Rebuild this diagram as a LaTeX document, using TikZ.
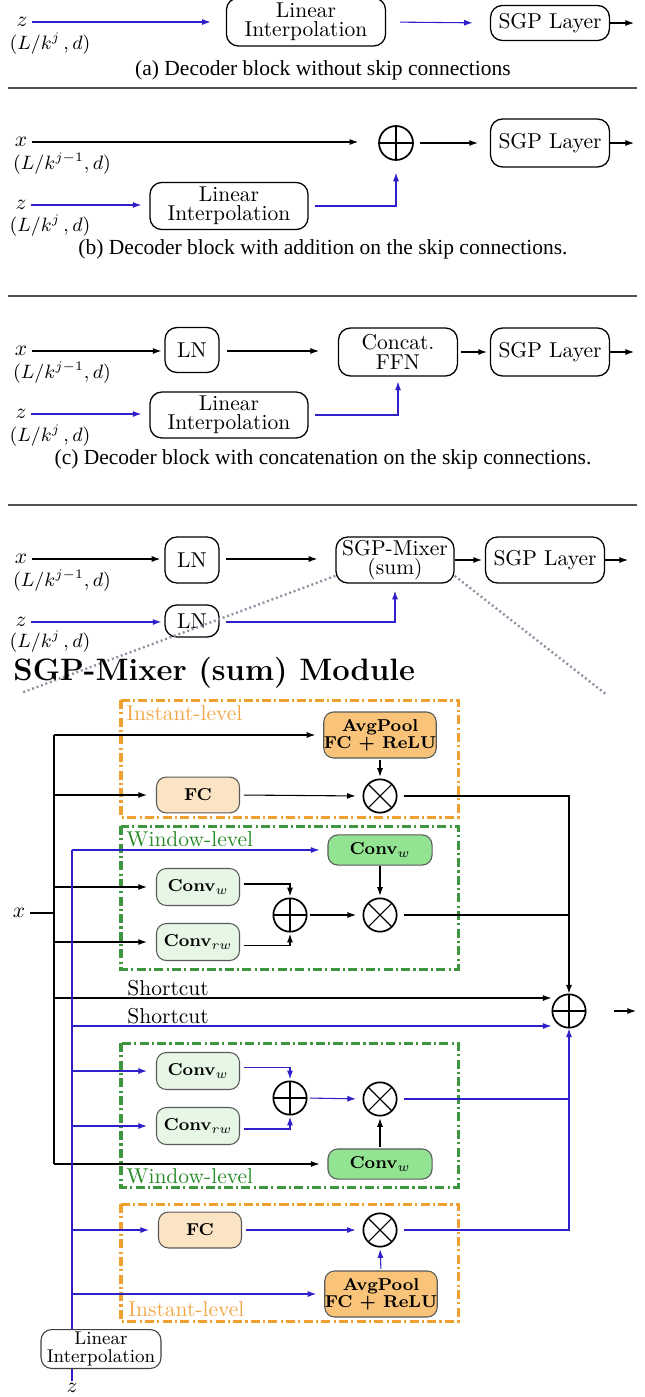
\documentclass[tikz,border=0pt]{standalone}
\usepackage{fontspec}
\newfontfamily\capfont{Liberation Serif}
\usetikzlibrary{arrows.meta,calc}
\definecolor{myblue}{RGB}{48,32,200}
\definecolor{oframe}{RGB}{240,160,50}
\definecolor{otext}{RGB}{242,168,72}
\definecolor{gframe}{RGB}{62,150,62}
\definecolor{gtext}{RGB}{40,140,40}
\definecolor{avgfill}{RGB}{249,196,122}
\definecolor{fcfill}{RGB}{251,228,195}
\definecolor{clight}{RGB}{230,247,230}
\definecolor{cdark}{RGB}{146,228,146}
\definecolor{dotgray}{RGB}{140,145,160}
\definecolor{rulegray}{RGB}{80,80,80}
\tikzset{
  arr/.style={-{Latex[length=4pt,width=2.8pt]}, line width=0.5pt},
  barr/.style={arr, color=myblue},
  bln/.style={line width=0.5pt, color=myblue},
  kln/.style={line width=0.5pt},
  pbox/.style={draw, rounded corners=5.5pt, align=center, inner sep=0pt, line width=0.6pt},
  mbox/.style={draw=black!65, rounded corners=4.6pt, align=center, inner sep=0pt, line width=0.5pt, font=\footnotesize\bfseries},
  opplus/.style={draw, circle, minimum size=15.5pt, inner sep=0pt, line width=0.8pt,
    path picture={\draw[line width=0.5pt] (path picture bounding box.north) -- (path picture bounding box.south)
      (path picture bounding box.west) -- (path picture bounding box.east);}},
  optimes/.style={draw, circle, minimum size=15.5pt, inner sep=0pt, line width=0.8pt,
    path picture={\draw[line width=0.5pt] (path picture bounding box.north west) -- (path picture bounding box.south east)
      (path picture bounding box.north east) -- (path picture bounding box.south west);}},
  oframebox/.style={draw=oframe, line width=1.4pt, dash pattern=on 4.2pt off 1.5pt on 1pt off 1.5pt},
  gframebox/.style={draw=gframe, line width=1.4pt, dash pattern=on 4.2pt off 1.5pt on 1pt off 1.5pt},
  dotline/.style={draw=dotgray, line width=1.1pt, dash pattern=on 0.9pt off 1.3pt},
  rulestyle/.style={draw=rulegray, line width=0.7pt},
  captext/.style={font=\capfont},
  lab/.style={inner sep=1pt},
  dimlab/.style={inner sep=0.5pt, font=\small}
}
\begin{document}
\begin{tikzpicture}[x=0.4651pt,y=-0.4651pt]
\useasboundingbox (0,0) rectangle (645,1397);

% ---------------- (a)
\node[lab] (za) at (22,22) {$z$};
\node[dimlab] (zla) at (50,44) {$(L/k^{j}\,, d)$};
\node[pbox, minimum width=74pt, minimum height=22.3pt] (lia) at (306,22) {Linear\\[-3pt]Interpolation};
\node[pbox, minimum width=55.3pt, minimum height=16.3pt] (sgpa) at (550,23) {SGP Layer};
\coordinate (outa) at (634,23);
\draw[barr, shorten <=1pt, shorten >=7pt] (za.east) -- (lia.west);
\draw[barr, shorten <=6.5pt, shorten >=8pt] (lia.east) -- (sgpa.west);
\draw[arr] (sgpa.east) -- (outa);
\node[captext] (capa) at (323,70) {(a) Decoder block without skip connections};
\draw[rulestyle] (8,88) -- (637,88);

% ---------------- (b)
\node[lab] (xb) at (21,142) {$x$};
\node[dimlab] (xlb) at (62,164) {$(L/k^{j-1}, d)$};
\node[opplus, minimum size=15.8pt] (plb) at (396,143) {};
\node[pbox, minimum width=55.3pt, minimum height=22.3pt] (sgpb) at (550,143) {SGP Layer};
\coordinate (outb) at (634,143);
\node[lab] (zb) at (21,205) {$z$};
\node[dimlab] (zlb) at (50,226) {$(L/k^{j}\,, d)$};
\node[pbox, minimum width=73.5pt, minimum height=21.9pt] (lib) at (229,206) {Linear\\[-3pt]Interpolation};
\draw[arr, shorten <=1pt, shorten >=9.3pt] (xb.east) -- (xb.east -| plb.west);
\draw[arr, shorten <=2.8pt, shorten >=5.6pt] (plb.east) -- (sgpb.west);
\draw[arr] (sgpb.east) -- (outb);
\draw[barr, shorten <=1pt, shorten >=3.7pt] (zb.east) -- (zb.east -| lib.west);
\draw[barr, shorten <=2.8pt, shorten >=5.5pt] (lib.east) -| (plb.south);
\node[captext] (capb) at (323,249) {(b) Decoder block with addition on the skip connections.};
\draw[rulestyle] (8,296) -- (637,296);

% ---------------- (c)
\node[lab] (xc) at (21,351) {$x$};
\node[dimlab] (xlc) at (62,373) {$(L/k^{j-1}, d)$};
\node[pbox, minimum width=25.1pt, minimum height=20.9pt] (lnc) at (192,350) {LN};
\node[pbox, minimum width=55.3pt, minimum height=22.3pt] (cat) at (398,352) {Concat.\\[-2.4pt]FFN};
\node[pbox, minimum width=55.3pt, minimum height=22.3pt] (sgpc) at (550,352) {SGP Layer};
\coordinate (outc) at (634,352);
\node[lab] (zc) at (21,414) {$z$};
\node[dimlab] (zlc) at (50,436) {$(L/k^{j}\,, d)$};
\node[pbox, minimum width=73.5pt, minimum height=21.4pt] (lic) at (229,415) {Linear\\[-3pt]Interpolation};
\draw[arr, shorten <=1pt, shorten >=1.4pt] (xc.east) -- (xc.east -| lnc.west);
\draw[arr, shorten <=3.3pt, shorten >=8.8pt] (lnc.east |- xc) -- (cat.west |- xc);
\draw[arr, shorten <=1.4pt, shorten >=1.4pt] (cat.east) -- (sgpc.west);
\draw[arr] (sgpc.east) -- (outc);
\draw[barr, shorten <=1pt, shorten >=3.7pt] (zc.east) -- (zc.east -| lic.west);
\draw[barr, shorten <=2.8pt, shorten >=2.3pt] (lic.east) -| (cat.south);
\node[captext] (capc) at (323,459) {(c) Decoder block with concatenation on the skip connections.};
\draw[rulestyle] (8,505) -- (637,505);

% ---------------- (d)
\node[lab] (xd) at (21,559) {$x$};
\node[dimlab] (xld) at (62,581) {$(L/k^{j-1}, d)$};
\node[pbox, minimum width=25.1pt, minimum height=21.4pt] (lnd) at (192,560) {LN};
\node[pbox, minimum width=54.9pt, minimum height=21.4pt] (mix) at (395,560) {SGP-Mixer\\[-3.2pt](sum)};
\node[pbox, minimum width=55.3pt, minimum height=21.4pt] (sgpd) at (545,560) {SGP Layer};
\coordinate (outd) at (628,560);
\node[lab] (zd) at (21,622) {$z$};
\node[dimlab] (zld) at (50,642) {$(L/k^{j}\,, d)$};
\node[pbox, minimum width=25.1pt, minimum height=14.9pt] (lnz) at (192,621) {LN};
\draw[arr, shorten <=1pt, shorten >=1.9pt] (xd.east) -- (xd.east -| lnd.west);
\draw[arr, shorten <=2.8pt, shorten >=8.4pt] (lnd.east |- xd) -- (mix.west |- xd);
\draw[arr, shorten >=1.4pt] (mix.east) -- (sgpd.west);
\draw[arr] (sgpd.east) -- (outd);
\draw[barr, shorten <=1pt, shorten >=1.4pt] (zd.east) -- (zd.east -| lnz.west);
\draw[barr, shorten <=2.8pt, shorten >=3.3pt] (lnz.east |- zd) -| (mix.south);
\coordinate (dl) at (21,693);
\coordinate (dr) at (607,695);
\draw[dotline] ([yshift=3.6pt]mix.south west) -- (dl);
\draw[dotline] ([yshift=3.6pt]mix.south east) -- (dr);
\node[anchor=west, font=\Large\bfseries, inner sep=0pt] (title) at (13,673) {SGP-Mixer (sum) Module};

% ---------------- module frames
\draw[oframebox] (121,700) rectangle (458,817);
\draw[gframebox] (121,826) rectangle (458,969);
\draw[gframebox] (121,1043) rectangle (458,1187);
\draw[oframebox] (121,1204) rectangle (458,1321);
\node[anchor=west, text=otext, inner sep=0pt] (il1) at (126,713) {Instant-level};
\node[anchor=west, text=gtext, inner sep=0pt] (wl1) at (126,839) {Window-level};
\node[anchor=west, text=gtext, inner sep=0pt] (wl2) at (126,1176) {Window-level};
\node[anchor=west, text=otext, inner sep=0pt] (il2) at (128,1309) {Instant-level};

% ---------------- module nodes
\node[mbox, fill=avgfill, minimum width=48.4pt, minimum height=21.4pt] (avg1) at (380,735) {AvgPool\\[-1.5pt]FC + ReLU};
\node[mbox, fill=fcfill, minimum width=38.6pt, minimum height=16.7pt] (fc1) at (198,795) {FC};
\node[optimes] (m1) at (380,796) {};
\node[mbox, fill=cdark, minimum width=48.4pt, minimum height=14pt] (cwf1) at (380,850) {Conv$_w$};
\node[mbox, fill=clight, minimum width=38.6pt, minimum height=17.2pt] (cw1) at (198,887) {Conv$_w$};
\node[mbox, fill=clight, minimum width=38.6pt, minimum height=17.2pt] (crw1) at (198,942) {Conv$_{rw}$};
\node[opplus] (p1) at (290,915) {};
\node[optimes] (m2) at (380,915) {};
\node[opplus] (fin) at (569,1011) {};
\node[mbox, fill=clight, minimum width=38.6pt, minimum height=17.2pt] (cw2) at (198,1071) {Conv$_w$};
\node[mbox, fill=clight, minimum width=38.6pt, minimum height=17.2pt] (crw2) at (198,1126) {Conv$_{rw}$};
\node[opplus] (p2) at (290,1098) {};
\node[optimes] (m3) at (380,1099) {};
\node[mbox, fill=cdark, minimum width=48.4pt, minimum height=14pt] (cwf2) at (380,1164) {Conv$_w$};
\node[mbox, fill=fcfill, minimum width=38.6pt, minimum height=16.7pt] (fc2) at (200,1230) {FC};
\node[optimes] (m4) at (380,1230) {};
\node[mbox, fill=avgfill, minimum width=46pt, minimum height=21.4pt] (avg2) at (381,1294) {AvgPool\\[-1.5pt]FC + ReLU};
\node[draw=black!75, rounded corners=5pt, align=center, inner sep=0pt, line width=0.5pt,
      minimum width=55.8pt, minimum height=18.1pt, font=\fontsize{8.6}{8.6}\selectfont] (lim) at (101,1349) {Linear\\Interpolation};
\node[lab] (xm) at (19,913) {$x$};
\node[lab, anchor=north] (zm) at (72,1381) {$z$};
\node[anchor=west, inner sep=0pt] (sc1) at (127,988) {Shortcut};
\node[anchor=west, inner sep=0pt] (sc2) at (127,1016) {Shortcut};
\coordinate (bt) at (54,734);
\coordinate (ut) at (72,849);
\coordinate (s1) at (54,998);
\coordinate (s2) at (72,1026);
\coordinate (outm) at (636,1011);

% black trunk
\draw[kln] (avg1.west -| bt) -- (cwf2.west -| bt);
\draw[kln, shorten <=1pt] (xm.east) -- (xm.east -| bt);
\draw[arr, shorten >=3.7pt] (avg1.west -| bt) -- (avg1.west);
\draw[arr, shorten >=4.2pt] (fc1.west -| bt) -- (fc1.west);
\draw[arr, shorten >=4.2pt] (cw1.west -| bt) -- (cw1.west);
\draw[arr, shorten >=4.2pt] (crw1.west -| bt) -- (crw1.west);
\draw[arr] (s1) -- (s1 -| fin.west);
\draw[arr, shorten >=3.7pt] (cwf2.west -| bt) -- (cwf2.west);

% blue trunk
\draw[bln] (cwf1.west -| ut) -- (lim.north -| ut);
\draw[bln] (zm.north) -- (lim.south -| zm);
\draw[barr, shorten >=3.7pt] (cwf1.west -| ut) -- (cwf1.west);
\draw[barr] (s2) -- (s2 -| fin.west);
\draw[barr, shorten >=4.2pt] (cw2.west -| ut) -- (cw2.west);
\draw[barr, shorten >=4.2pt] (crw2.west -| ut) -- (crw2.west);
\draw[barr, shorten >=4.2pt] (fc2.west -| ut) -- (fc2.west);
\draw[barr, shorten >=3.7pt] (avg2.west -| ut) -- (avg2.west);

% instant-level 1
\draw[arr, shorten <=1.8pt, shorten >=3.2pt] (fc1.east) -- (m1.west);
\draw[arr, shorten <=0.8pt, shorten >=0.8pt] (avg1.south) -- (m1.north);
\draw[arr, shorten <=2.8pt] (m1.east) -| (fin.north);
% window-level 1
\draw[arr, shorten <=1.8pt, shorten >=0.6pt] ([yshift=1.4pt]cw1.east) -| (p1.north);
\draw[arr, shorten <=1.8pt, shorten >=0.6pt] ([yshift=-1.8pt]crw1.east) -| (p1.south);
\draw[arr, shorten <=1pt, shorten >=3pt] (p1.east) -- (m2.west);
\draw[arr, shorten >=0.8pt] (cwf1.south) -- (m2.north);
\draw[kln, shorten <=2.8pt] (m2.east) -- (m2.east -| fin);
% window-level 2
\draw[barr, shorten <=1.8pt, shorten >=0.6pt] ([yshift=1.8pt]cw2.east) -| (p2.north);
\draw[barr, shorten <=1.8pt, shorten >=0.6pt] ([yshift=-1.4pt]crw2.east) -| (p2.south);
\draw[barr, shorten <=1pt, shorten >=3pt] (p2.east) -- (m3.west);
\draw[arr, shorten <=0.8pt, shorten >=0.8pt] (cwf2.north) -- (m3.south);
\draw[bln, shorten <=2.8pt] (m3.east) -- (m3.east -| fin);
% instant-level 2
\draw[barr, shorten <=1.8pt, shorten >=3.2pt] (fc2.east) -- (m4.west);
\draw[barr, shorten <=0.8pt, shorten >=0.8pt] (avg2.north) -- (m4.south);
\draw[barr, shorten <=2.8pt] (m4.east) -| (fin.south);
% output
\draw[arr, shorten <=12.6pt] (fin.east) -- (outm);
\end{tikzpicture}
\end{document}
